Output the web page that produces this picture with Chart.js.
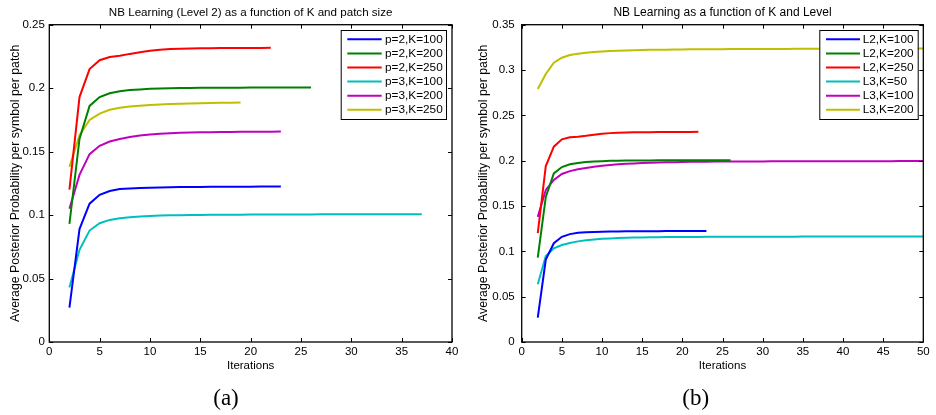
<!DOCTYPE html>
<html>
<head>
<meta charset="utf-8">
<script src="https://cdn.jsdelivr.net/npm/chart.js@4"></script>
<style>
  body { margin: 0; background: #fff; }
  .panel { position: absolute; top: 0; width: 468px; height: 415px; }
</style>
</head>
<body>
<div class="panel" style="left:0"><canvas id="chartA" width="468" height="415"></canvas></div>
<div class="panel" style="left:468px"><canvas id="chartB" width="468" height="415"></canvas></div>
<script>
// first iteration shown in both panels
const firstIter = 2;

// (a) Level 2, by patch size
const aLabels = ['p=2,K=100', 'p=2,K=200', 'p=2,K=250', 'p=3,K=100', 'p=3,K=200', 'p=3,K=250'];
const aP2K100 = [0.027, 0.089, 0.109, 0.116, 0.119, 0.1205, 0.121, 0.1213, 0.1216, 0.1218, 0.122, 0.1221,
  0.1222, 0.1222, 0.1223, 0.1223, 0.1224, 0.1224, 0.1224, 0.1225, 0.1225, 0.1225];
const aP2K200 = [0.093, 0.160, 0.186, 0.193, 0.196, 0.1975, 0.1985, 0.199, 0.1995, 0.1998, 0.2, 0.2001,
  0.2002, 0.2003, 0.2003, 0.2004, 0.2004, 0.2004, 0.2005, 0.2005, 0.2005, 0.2005, 0.2005, 0.2006, 0.2006];
const aP2K250 = [0.120, 0.193, 0.215, 0.222, 0.2245, 0.2255, 0.227, 0.2283, 0.2295, 0.2303, 0.2308,
  0.2311, 0.2313, 0.2314, 0.2315, 0.2316, 0.2316, 0.2317, 0.2317, 0.2317, 0.2318];
const aP3K100 = [0.043, 0.0726, 0.0878, 0.0936, 0.0962, 0.0975, 0.0983, 0.0989, 0.0993, 0.0996,
  0.0998, 0.0999, 0.1, 0.1001, 0.1002, 0.1002, 0.1003, 0.1003, 0.1004, 0.1004,
  0.1004, 0.1005, 0.1005, 0.1005, 0.1005, 0.1006, 0.1006, 0.1006, 0.1006, 0.1006,
  0.1007, 0.1007, 0.1007, 0.1007, 0.1007, 0.1007];
const aP3K200 = [0.105, 0.1317, 0.148, 0.1546, 0.158, 0.160, 0.1615, 0.1627, 0.1635, 0.1641,
  0.1645, 0.1648, 0.165, 0.1652, 0.1653, 0.1654, 0.1655, 0.1656, 0.1656, 0.1657, 0.1657, 0.1658];
const aP3K250 = [0.138, 0.163, 0.175, 0.180, 0.183, 0.1845, 0.1855, 0.1862, 0.1868, 0.1872,
  0.1875, 0.1878, 0.188, 0.1882, 0.1884, 0.1885, 0.1886, 0.1887];
const aXTicks = [0, 5, 10, 15, 20, 25, 30, 35, 40];
const aYTicks = [0, 0.05, 0.1, 0.15, 0.2, 0.25];

// (b) by level
const bLabels = ['L2,K=100', 'L2,K=200', 'L2,K=250', 'L3,K=50', 'L3,K=100', 'L3,K=200'];
const bL2K100 = [0.027, 0.091, 0.109, 0.116, 0.119, 0.1205, 0.121, 0.1213, 0.1216, 0.1218, 0.122, 0.1221,
  0.1222, 0.1222, 0.1223, 0.1223, 0.1224, 0.1224, 0.1224, 0.1225, 0.1225, 0.1225];
const bL2K200 = [0.093, 0.160, 0.186, 0.193, 0.196, 0.1975, 0.1985, 0.199, 0.1995, 0.1998, 0.2, 0.2001,
  0.2002, 0.2003, 0.2003, 0.2004, 0.2004, 0.2004, 0.2005, 0.2005, 0.2005, 0.2005, 0.2005, 0.2006, 0.2006];
const bL2K250 = [0.120, 0.194, 0.2155, 0.2235, 0.2258, 0.2265, 0.2275, 0.2287, 0.2297, 0.2304, 0.2308,
  0.2311, 0.2313, 0.2314, 0.2315, 0.2316, 0.2316, 0.2317, 0.2317, 0.2317, 0.2318];
const bL3K50 = [0.0636, 0.0949, 0.1033, 0.107, 0.1092, 0.111, 0.1122, 0.1131, 0.1138, 0.1143,
  0.1147, 0.115, 0.1152, 0.1154, 0.1155, 0.1156, 0.1157, 0.1158, 0.1158, 0.1159,
  0.1159, 0.116, 0.116, 0.116, 0.1161, 0.1161, 0.1161, 0.1161, 0.1162, 0.1162,
  0.1162, 0.1162, 0.1162, 0.1163, 0.1163, 0.1163, 0.1163, 0.1163, 0.1163, 0.1164,
  0.1164, 0.1164, 0.1164, 0.1164, 0.1164, 0.1165, 0.1165, 0.1165, 0.1165];
const bL3K100 = [0.138, 0.1677, 0.1787, 0.1853, 0.1885, 0.1905, 0.192, 0.1933, 0.1945, 0.1953,
  0.196, 0.1965, 0.197, 0.1974, 0.1977, 0.198, 0.1982, 0.1984, 0.1986, 0.1987,
  0.1988, 0.1989, 0.199, 0.199, 0.1991, 0.1991, 0.1992, 0.1992, 0.1992, 0.1993,
  0.1993, 0.1993, 0.1993, 0.1994, 0.1994, 0.1994, 0.1994, 0.1994, 0.1995, 0.1995,
  0.1995, 0.1995, 0.1995, 0.1995, 0.1995, 0.1996, 0.1996, 0.1996, 0.1996];
const bL3K200 = [0.279, 0.2956, 0.308, 0.3136, 0.3166, 0.318, 0.319, 0.3198, 0.3204, 0.3209,
  0.3213, 0.3216, 0.3219, 0.3221, 0.3223, 0.3224, 0.3225, 0.3226, 0.3227, 0.3228,
  0.3229, 0.3229, 0.323, 0.323, 0.3231, 0.3231, 0.3232, 0.3232, 0.3232, 0.3233,
  0.3233, 0.3233, 0.3234, 0.3234, 0.3234, 0.3234, 0.3235, 0.3235, 0.3235, 0.3235,
  0.3236, 0.3236, 0.3236, 0.3236, 0.3237, 0.3237, 0.3237, 0.3237, 0.3238];
const bXTicks = [0, 5, 10, 15, 20, 25, 30, 35, 40, 45, 50];
const bYTicks = [0, 0.05, 0.1, 0.15, 0.2, 0.25, 0.3, 0.35];

const colors = ['#0000ff', '#008000', '#ff0000', '#00bfbf', '#bf00bf', '#bfbf00'];
const FONT = '"Liberation Sans", Arial, Helvetica, sans-serif';

const toPoints = vals => vals.map((v, i) => ({ x: firstIter + i, y: v }));

// MATLAB style box with inward ticks on all four sides
const matlabBox = {
  id: 'matlabBox',
  afterDatasetsDraw(chart) {
    const { ctx, chartArea: a, scales: { x, y } } = chart;
    ctx.save();
    ctx.strokeStyle = '#000';
    ctx.lineWidth = 1;
    ctx.beginPath();
    x.ticks.forEach(t => {
      const px = Math.round(x.getPixelForValue(t.value)) + 0.5;
      ctx.moveTo(px, a.bottom); ctx.lineTo(px, a.bottom - 4);
      ctx.moveTo(px, a.top); ctx.lineTo(px, a.top + 4);
    });
    y.ticks.forEach(t => {
      const py = Math.round(y.getPixelForValue(t.value)) + 0.5;
      ctx.moveTo(a.left, py); ctx.lineTo(a.left + 4, py);
      ctx.moveTo(a.right, py); ctx.lineTo(a.right - 4, py);
    });
    ctx.stroke();
    ctx.lineWidth = 1.3;
    ctx.strokeRect(a.left, a.top, a.right - a.left, a.bottom - a.top);
    ctx.restore();
  }
};

// legend box at a fixed spot inside the axes
const boxLegend = {
  id: 'boxLegend',
  afterDraw(chart, args, o) {
    const { ctx } = chart;
    ctx.save();
    ctx.fillStyle = '#fff';
    ctx.fillRect(o.x, o.y, o.w, o.h);
    ctx.strokeStyle = '#000';
    ctx.lineWidth = 1;
    ctx.strokeRect(o.x + 0.5, o.y + 0.5, o.w, o.h);
    ctx.font = o.size + 'px ' + FONT;
    ctx.textBaseline = 'middle';
    chart.data.datasets.forEach((ds, i) => {
      const cy = o.y + o.first + i * o.step;
      ctx.strokeStyle = ds.borderColor;
      ctx.lineWidth = 2;
      ctx.beginPath();
      ctx.moveTo(o.x + o.line0, cy);
      ctx.lineTo(o.x + o.line1, cy);
      ctx.stroke();
      ctx.fillStyle = '#000';
      ctx.fillText(ds.label, o.x + o.textX, cy);
    });
    ctx.restore();
  }
};

function makeChart(id, cfg) {
  return new Chart(document.getElementById(id), {
    type: 'line',
    data: {
      datasets: cfg.series.map((vals, i) => ({
        label: cfg.labels[i],
        data: toPoints(vals),
        borderColor: colors[i],
        backgroundColor: colors[i],
        borderWidth: 2,
        pointRadius: 0,
        tension: 0,
        fill: false
      }))
    },
    plugins: [matlabBox, boxLegend],
    options: {
      responsive: false,
      animation: false,
      events: [],
      layout: { padding: { left: 0, right: cfg.padRight, top: 0, bottom: 0 } },
      plugins: {
        legend: { display: false },
        tooltip: { enabled: false },
        title: {
          display: true,
          fullSize: false,
          text: cfg.title,
          color: '#000',
          font: { family: FONT, size: cfg.titleSize, weight: 'normal', lineHeight: 1.2 },
          padding: { top: 12.3 - cfg.titleSize * 0.6, bottom: 24.7 - 12.3 - cfg.titleSize * 0.6 }
        },
        subtitle: {
          display: true,
          position: 'bottom',
          text: cfg.tag,
          color: '#000',
          font: { family: '"Liberation Serif", "DejaVu Serif", serif', size: 23, weight: 'normal' },
          padding: { top: 0, bottom: 2.2 }
        },
        boxLegend: cfg.legend
      },
      scales: {
        x: {
          type: 'linear',
          min: cfg.xTicks[0],
          max: cfg.xTicks[cfg.xTicks.length - 1],
          afterBuildTicks: s => { s.ticks = cfg.xTicks.map(v => ({ value: v })); },
          afterFit: s => { s.height = 43.2; },
          grid: { display: false, drawTicks: false },
          border: { display: false },
          ticks: { color: '#000', font: { family: FONT, size: 11.5 }, padding: 3, maxRotation: 0,
            callback: v => String(v) },
          title: { display: true, text: 'Iterations', color: '#000',
            font: { family: FONT, size: 11.5 }, padding: { top: 0, bottom: 12.8 } }
        },
        y: {
          type: 'linear',
          min: cfg.yTicks[0],
          max: cfg.yTicks[cfg.yTicks.length - 1],
          afterBuildTicks: s => { s.ticks = cfg.yTicks.map(v => ({ value: v })); },
          afterFit: s => { s.width = cfg.yWidth; },
          grid: { display: false, drawTicks: false },
          border: { display: false },
          ticks: { color: '#000', font: { family: FONT, size: 11.5 }, padding: cfg.yTickPad,
            callback: v => String(v) },
          title: { display: true, text: 'Average Posterior Probability per symbol per patch', color: '#000',
            font: { family: FONT, size: 12.3 }, padding: { top: 8.6, bottom: 0 } }
        }
      }
    }
  });
}

makeChart('chartA', {
  title: 'NB Learning (Level 2) as a function of K and patch size',
  titleSize: 11.6,
  tag: '(a)',
  labels: aLabels,
  series: [aP2K100, aP2K200, aP2K250, aP3K100, aP3K200, aP3K250],
  xTicks: aXTicks,
  yTicks: aYTicks,
  yWidth: 49.3,
  yTickPad: 4.5,
  padRight: 16,
  legend: { x: 340.7, y: 30, w: 105.3, h: 89, first: 9.3, step: 14.1, line0: 6.6, line1: 41, textX: 44.3, size: 11.8 }
});

makeChart('chartB', {
  title: 'NB Learning as a function of K and Level',
  titleSize: 12,
  tag: '(b)',
  labels: bLabels,
  series: [bL2K100, bL2K200, bL2K250, bL3K50, bL3K100, bL3K200],
  xTicks: bXTicks,
  yTicks: bYTicks,
  yWidth: 53.7,
  yTickPad: 7,
  padRight: 12.7,
  legend: { x: 351.3, y: 30, w: 98.4, h: 89, first: 9.3, step: 14.1, line0: 6.7, line1: 40.7, textX: 43.4, size: 11.8 }
});
</script>
</body>
</html>
